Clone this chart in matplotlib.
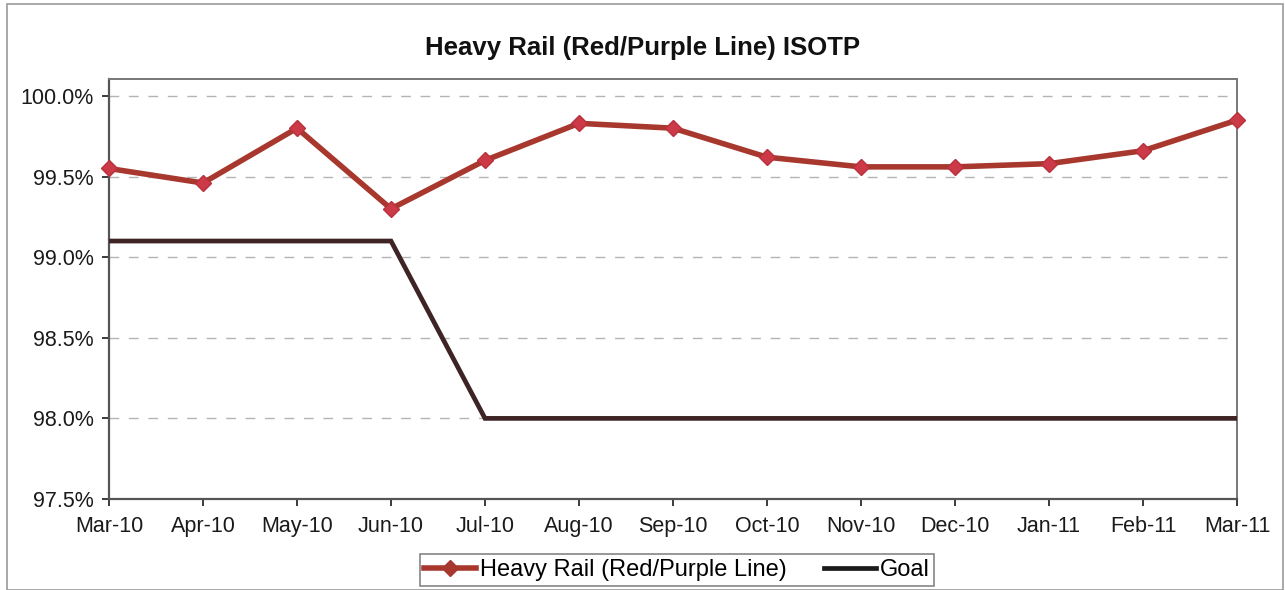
import matplotlib
matplotlib.use("Agg")
import matplotlib.pyplot as plt
from matplotlib.lines import Line2D
from matplotlib.patches import Rectangle
from matplotlib.ticker import FuncFormatter

months = ["Mar-10", "Apr-10", "May-10", "Jun-10", "Jul-10", "Aug-10", "Sep-10",
          "Oct-10", "Nov-10", "Dec-10", "Jan-11", "Feb-11", "Mar-11"]
heavy_rail = [99.55, 99.46, 99.80, 99.30, 99.60, 99.83, 99.80,
              99.62, 99.56, 99.56, 99.58, 99.66, 99.85]
goal = [99.1, 99.1, 99.1, 99.1, 98.0, 98.0, 98.0,
        98.0, 98.0, 98.0, 98.0, 98.0, 98.0]
y_ticks = [97.5, 98.0, 98.5, 99.0, 99.5, 100.0]

plt.rcParams["font.family"] = ["Liberation Sans", "DejaVu Sans"]

fig = plt.figure(figsize=(12.85, 5.9), dpi=100)
fig.patch.set_facecolor("white")

# outer chart border
fig.patches.append(Rectangle((7 / 1285, 0.0), 1276 / 1285, 1 - 4 / 590,
                             transform=fig.transFigure, fill=False,
                             edgecolor="#9a9a9a", linewidth=1.2))

ax = fig.add_axes([109 / 1285, 1 - 499 / 590, 1128 / 1285, 420 / 590])
x = list(range(len(months)))

ax.set_xlim(0, len(months) - 1)
ax.set_ylim(97.5, 100.105)

for yv in y_ticks[1:]:
    ax.axhline(yv, color="#b4b4b4", linewidth=1.0, linestyle=(0, (7, 7)), zorder=1)

ax.plot(x, goal, color="#3e2424", linewidth=3.4, solid_joinstyle="miter", zorder=3)
ax.plot(x, heavy_rail, color="#a8382e", linewidth=4.0, marker="D", markersize=8.5,
        markerfacecolor="#cc3a48", markeredgecolor="#b8303c", zorder=4,
        clip_on=False)

ax.set_xticks(x)
ax.set_xticklabels(months)
ax.set_yticks(y_ticks)
ax.yaxis.set_major_formatter(FuncFormatter(lambda v, p: f"{v:.1f}%"))
ax.tick_params(axis="both", labelsize=15.5, colors="#1a1a1a", length=5,
               direction="out", width=1.2)
ax.tick_params(axis="x", pad=7)
ax.tick_params(axis="y", pad=6)

for side in ["left", "bottom"]:
    ax.spines[side].set_color("#555555")
    ax.spines[side].set_linewidth(1.6)
for side in ["top", "right"]:
    ax.spines[side].set_color("#777777")
    ax.spines[side].set_linewidth(1.4)

fig.text(643 / 1285, 1 - 48 / 590, "Heavy Rail (Red/Purple Line) ISOTP",
         ha="center", va="center", fontsize=18.5, fontweight="bold", color="#111111")

handles = [
    Line2D([], [], color="#a8382e", linewidth=4.0, marker="D", markersize=8.5,
           markerfacecolor="#a8382e", markeredgecolor="#a8382e"),
    Line2D([], [], color="#1a1a1a", linewidth=3.4),
]
leg = fig.legend(handles, ["Heavy Rail (Red/Purple Line)", "Goal"],
                 loc="center", bbox_to_anchor=(677 / 1285, 1 - 570 / 590),
                 ncol=2, fontsize=17, frameon=True, fancybox=False,
                 edgecolor="#666666", handlelength=2.2, handletextpad=0.15,
                 columnspacing=1.6, borderpad=0.2, borderaxespad=0)
leg.get_frame().set_linewidth(1.2)

fig.savefig("out.png", dpi=100, facecolor="white")
